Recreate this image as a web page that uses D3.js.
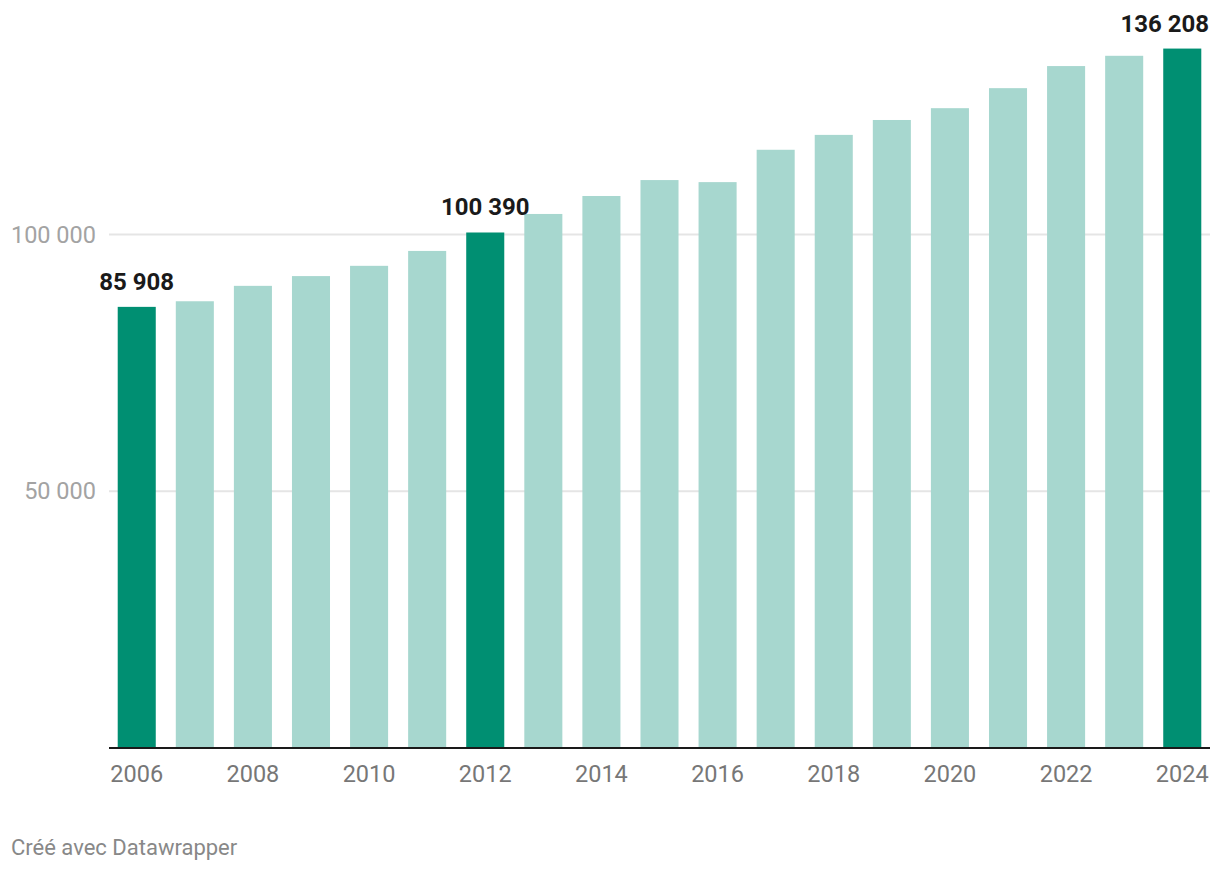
<!DOCTYPE html>
<html>
<head>
<meta charset="utf-8">
<script src="https://cdn.jsdelivr.net/npm/d3@7"></script>
<style>
  body { margin: 0; background: #fff; font-family: Roboto, sans-serif; }
  .grid line { stroke: #e5e5e5; stroke-width: 2; }
  .ylab { fill: #a3a3a3; font-size: 23.5px; }
  .xlab { fill: #777; font-size: 23.5px; }
  .value { fill: #1a1a1a; font-size: 24px; font-weight: bold; }
  .source { fill: #888; font-size: 22px; }
</style>
</head>
<body>
<svg width="1220" height="870"></svg>
<script>
const years = [2006, 2007, 2008, 2009, 2010, 2011, 2012, 2013, 2014, 2015,
  2016, 2017, 2018, 2019, 2020, 2021, 2022, 2023, 2024];
const values = [85908, 87000, 90000, 91900, 93900, 96800, 100390, 104000, 107500, 110600,
  110200, 116500, 119400, 122300, 124600, 128500, 132800, 134800, 136208];
const highlighted = [2006, 2012, 2024];
const yTicks = [50000, 100000];
const xTicks = [2006, 2008, 2010, 2012, 2014, 2016, 2018, 2020, 2022, 2024];

const svg = d3.select('svg');
const fmt = v => d3.format(',')(v).replace(/,/g, ' ');

const plotLeft = 109, plotRight = 1210, plotBottom = 748;

const xScale = d3.scaleBand()
  .domain(years)
  .range([plotLeft, plotRight])
  .paddingInner(0.345)
  .paddingOuter(0.15);

const yScale = d3.scaleLinear()
  .domain([0, 100000])
  .range([plotBottom, 234.5]);

// grid lines
svg.append('g')
  .attr('class', 'grid')
  .selectAll('line')
  .data(yTicks)
  .enter()
  .append('line')
  .attr('x1', plotLeft)
  .attr('x2', plotRight)
  .attr('y1', d => yScale(d))
  .attr('y2', d => yScale(d));

svg.append('g').selectAll('text')
  .data(yTicks)
  .enter()
  .append('text')
  .attr('class', 'ylab')
  .attr('x', 96)
  .attr('y', d => yScale(d))
  .attr('dy', '0.35em')
  .attr('text-anchor', 'end')
  .text(fmt);

// bars
const data = years.map((y, i) => ({ year: y, value: values[i] }));
svg.append('g').selectAll('rect')
  .data(data)
  .enter()
  .append('rect')
  .attr('x', d => xScale(d.year))
  .attr('width', xScale.bandwidth())
  .attr('y', d => yScale(d.value))
  .attr('height', d => yScale(0) - yScale(d.value))
  .attr('fill', d => highlighted.includes(d.year) ? '#008f72' : '#a7d7cf');

// baseline
svg.append('line')
  .attr('x1', plotLeft)
  .attr('x2', plotRight)
  .attr('y1', yScale(0))
  .attr('y2', yScale(0))
  .attr('stroke', '#1a1a1a')
  .attr('stroke-width', 2);

// x labels
svg.append('g').selectAll('text')
  .data(xTicks)
  .enter()
  .append('text')
  .attr('class', 'xlab')
  .attr('x', d => xScale(d) + xScale.bandwidth() / 2)
  .attr('y', 782)
  .attr('text-anchor', 'middle')
  .text(d => d);

// value labels for highlighted bars
svg.append('g').selectAll('text')
  .data(data.filter(d => highlighted.includes(d.year)))
  .enter()
  .append('text')
  .attr('class', 'value')
  .attr('y', d => yScale(d.value) - 17)
  .attr('text-anchor', 'middle')
  .text(d => fmt(d.value))
  .attr('x', function (d) {
    const c = xScale(d.year) + xScale.bandwidth() / 2;
    const w = this.getComputedTextLength();
    return Math.min(c, 1209 - w / 2);
  });

svg.append('text')
  .attr('class', 'source')
  .attr('x', 11)
  .attr('y', 855)
  .text('Créé avec Datawrapper');
</script>
</body>
</html>
